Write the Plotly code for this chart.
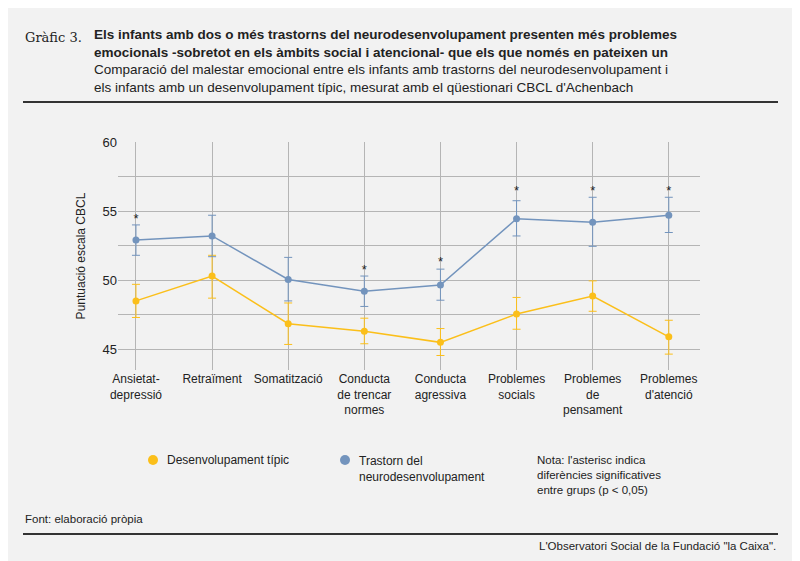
import plotly.graph_objects as go

categories = ["Ansietat-<br>depressió", "Retraïment", "Somatització", "Conducta<br>de trencar<br>normes",
              "Conducta<br>agressiva", "Problemes<br>socials", "Problemes<br>de<br>pensament", "Problemes<br>d'atenció"]
tipic = [48.5, 50.3, 46.85, 46.3, 45.5, 47.55, 48.85, 45.9]
tipic_lo = [47.3, 48.7, 45.35, 45.4, 44.55, 46.45, 47.75, 44.65]
tipic_hi = [49.7, 51.8, 48.35, 47.25, 46.5, 48.75, 49.95, 47.1]
trastorn = [52.9, 53.2, 50.05, 49.2, 49.65, 54.45, 54.2, 54.7]
trastorn_lo = [51.8, 51.7, 48.5, 48.1, 48.55, 53.2, 52.45, 53.45]
trastorn_hi = [54.0, 54.7, 51.65, 50.3, 50.8, 55.75, 56.0, 56.0]
star_y = [54.4, None, None, 50.7, 51.25, 56.4, 56.4, 56.4]

YEL = "#fbbf1a"
BLUE = "#7394bd"
x = list(range(len(categories)))

# page has an 8px body margin, so work in reference pixels minus 8
OFF = 8
L, R, T, B = 118 - OFF, 700 - OFF, 142 - OFF, 370 - OFF
def px(v):
    return (v - OFF - L) / (R - L)
def py(v):
    return (B - (v - OFF)) / (B - T)

fig = go.Figure()
for vals, lo, hi, col in [(tipic, tipic_lo, tipic_hi, YEL), (trastorn, trastorn_lo, trastorn_hi, BLUE)]:
    fig.add_trace(go.Scatter(
        x=x, y=vals, mode="lines+markers", showlegend=False,
        line=dict(color=col, width=1.5), marker=dict(size=7, color=col),
        error_y=dict(type="data", symmetric=False,
                     array=[h - v for h, v in zip(hi, vals)],
                     arrayminus=[v - l for v, l in zip(vals, lo)],
                     color=col, thickness=1, width=4)))
fig.add_trace(go.Scatter(
    x=[i for i, s in zip(x, star_y) if s], y=[s for s in star_y if s],
    mode="text", text=["*"] * sum(1 for s in star_y if s), showlegend=False,
    textfont=dict(size=13, color="#222")))

def dot(cx, cy, col):
    r = 5
    return dict(type="circle", xref="paper", yref="paper", x0=px(cx - r), x1=px(cx + r),
                y0=py(cy + r), y1=py(cy - r), fillcolor=col, line=dict(width=0))

fig.update_layout(
    width=800, height=561, paper_bgcolor="#f2f2f2", plot_bgcolor="#f2f2f2",
    margin=dict(l=L, r=800 - R, t=T, b=561 - B, autoexpand=False),
    font=dict(family="Liberation Sans, Arial", size=12, color="#222"),
    showlegend=False,
    xaxis=dict(tickvals=x, ticktext=categories, range=[-0.236, 7.41], showgrid=True,
               gridcolor="#b5b5b5", zeroline=False, ticks="", tickfont=dict(size=12)),
    yaxis=dict(range=[43.5, 60], tickvals=[45, 47.5, 50, 52.5, 55, 57.5, 60],
               ticktext=["45", "", "50", "", "55", "", "60"], gridcolor="#b5b5b5",
               zeroline=False, title=dict(text="Puntuació escala CBCL", font=dict(size=12), standoff=14),
               tickfont=dict(size=13)),
    shapes=[
        dict(type="line", xref="paper", yref="paper", x0=px(23), x1=px(778), y0=py(102), y1=py(102),
             line=dict(color="#333", width=2)),
        dict(type="line", xref="paper", yref="paper", x0=px(23), x1=px(778), y0=py(534), y1=py(534),
             line=dict(color="#333", width=2)),
        dot(153, 460, YEL),
        dot(345, 460, BLUE),
    ],
    annotations=[
        dict(x=px(23), y=py(28), xref="paper", yref="paper", xanchor="left", yanchor="top",
             text="Gràfic 3.", showarrow=False, font=dict(family="DejaVu Serif", size=13)),
        dict(x=px(92), y=py(25), xref="paper", yref="paper", xanchor="left", yanchor="top", align="left",
             showarrow=False, font=dict(size=13.5, color="#222"),
             text="<b>Els infants amb dos o més trastorns del neurodesenvolupament presenten més problemes</b><br>"
                  "<b>emocionals -sobretot en els àmbits social i atencional- que els que només en pateixen un</b><br>"
                  "Comparació del malestar emocional entre els infants amb trastorns del neurodesenvolupament i<br>"
                  "els infants amb un desenvolupament típic, mesurat amb el qüestionari CBCL d'Achenbach"),
        dict(x=px(165), y=py(460), xref="paper", yref="paper", xanchor="left", yanchor="middle",
             showarrow=False, font=dict(size=12), text="Desenvolupament típic"),
        dict(x=px(357), y=py(452), xref="paper", yref="paper", xanchor="left", yanchor="top", align="left",
             showarrow=False, font=dict(size=12), text="Trastorn del<br>neurodesenvolupament"),
        dict(x=px(535), y=py(452), xref="paper", yref="paper", xanchor="left", yanchor="top", align="left",
             showarrow=False, font=dict(size=11.5),
             text="Nota: l'asterisc indica<br>diferències significatives<br>entre grups (p < 0,05)"),
        dict(x=px(23), y=py(511), xref="paper", yref="paper", xanchor="left", yanchor="top",
             showarrow=False, font=dict(size=11.5), text="Font: elaboració pròpia"),
        dict(x=px(778), y=py(538), xref="paper", yref="paper", xanchor="right", yanchor="top",
             showarrow=False, font=dict(size=11.5), text="L'Observatori Social de la Fundació \"la Caixa\"."),
    ],
)
fig.write_html("out.html")
